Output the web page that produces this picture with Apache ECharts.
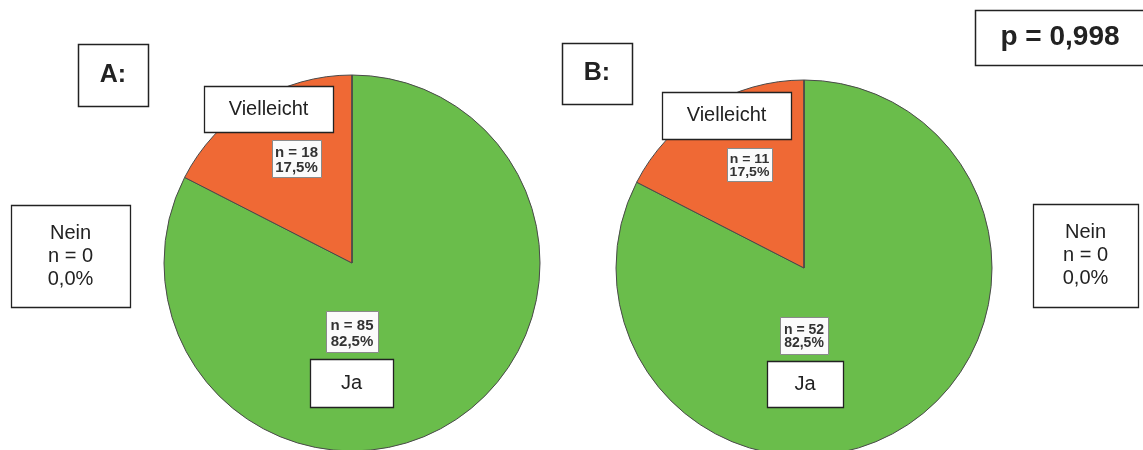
<!DOCTYPE html>
<html>
<head>
<meta charset="utf-8">
<script src="https://cdn.jsdelivr.net/npm/echarts@6/dist/echarts.min.js"></script>
<style>
  html, body { margin: 0; padding: 0; background: #fff; }
  #chart { width: 1143px; height: 450px; }
</style>
</head>
<body>
<div id="chart"></div>
<script>
// Antwortkategorien und Fallzahlen je Gruppe
const categories = ['Ja', 'Vielleicht', 'Nein'];
const countsA = [85, 18, 0];
const countsB = [52, 11, 0];
const groupNames = ['A:', 'B:'];
const pValueText = 'p = 0,998';

const colors = ['#6abd4b', '#ef6935', '#4a7ebb'];
const FONT = '"Liberation Sans", Arial, sans-serif';

function pct(i, arr) {
  const total = arr.reduce((a, b) => a + b, 0);
  return (arr[i] / total * 100).toFixed(1).replace('.', ',') + '%';
}

// Kasten mit zentriertem Text
function box(x, y, w, h, text, font, opt) {
  opt = opt || {};
  return {
    type: 'group',
    children: [
      {
        type: 'rect',
        z: 100,
        zlevel: 1,
        shape: { x: x + 0.5, y: y + 0.5, width: w, height: h },
        style: { fill: opt.fill || '#fff', stroke: opt.stroke || '#222', lineWidth: opt.lw || 1.3 }
      },
      {
        type: 'text',
        z: 101,
        zlevel: 1,
        x: x + w / 2,
        y: y + h / 2 + (opt.dy || 0),
        scaleX: opt.sx || 1,
        style: {
          text: text,
          font: font,
          fill: opt.color || '#222',
          align: 'center',
          verticalAlign: 'middle',
          lineHeight: opt.lh
        }
      }
    ]
  };
}

function pieSeries(counts, center) {
  return {
    type: 'pie',
    center: center,
    radius: 188,
    startAngle: 90,
    clockwise: true,
    silent: true,
    animation: false,
    avoidLabelOverlap: false,
    label: { show: false },
    labelLine: { show: false },
    itemStyle: { borderColor: '#4a4a4a', borderWidth: 1 },
    data: categories.map((c, i) => ({
      name: c,
      value: counts[i],
      itemStyle: { color: colors[i] }
    }))
  };
}

const nLabel = (arr, i) => 'n = ' + arr[i] + '\n' + pct(i, arr);
const catLabel = (arr, i) => categories[i] + '\nn = ' + arr[i] + '\n' + pct(i, arr);

const big = '20px ' + FONT;
const valueBox = { stroke: '#8a8a8a', lw: 1, color: '#333', fill: '#fbfbfb' };

const graphic = [
  // Gruppenbezeichnungen
  box(78, 44, 70, 62, groupNames[0], 'bold 25px ' + FONT, { lw: 1.5 }),
  box(562, 43, 70, 61, groupNames[1], 'bold 25px ' + FONT, { lw: 1.5 }),
  // p-Wert
  box(975, 10, 170, 55, pValueText, 'bold 28px ' + FONT, { lw: 1.5 }),

  // Gruppe A
  box(204, 86, 129, 46, categories[1], big),
  box(310, 359, 83, 48, categories[0], big),
  box(11, 205, 119, 102, catLabel(countsA, 2), big, { lh: 23 }),
  box(272, 140, 49, 37, nLabel(countsA, 1), 'bold 15px ' + FONT,
      Object.assign({ lh: 15, dy: 2 }, valueBox)),
  box(326, 311, 52, 41, nLabel(countsA, 0), 'bold 15px ' + FONT,
      Object.assign({ lh: 16, dy: 2 }, valueBox)),

  // Gruppe B
  box(662, 92, 129, 47, categories[1], big),
  box(767, 361, 76, 46, categories[0], big),
  box(1033, 204, 105, 103, catLabel(countsB, 2), big, { lh: 23 }),
  box(727, 148, 45, 33, nLabel(countsB, 1), 'bold 13px ' + FONT,
      Object.assign({ lh: 13, dy: 1, sx: 1.08 }, valueBox)),
  box(780, 317, 48, 37, nLabel(countsB, 0), 'bold 14px ' + FONT,
      Object.assign({ lh: 13.5, dy: 1 }, valueBox))
];

const chart = echarts.init(document.getElementById('chart'), null, { renderer: 'canvas' });
chart.setOption({
  backgroundColor: '#ffffff',
  animation: false,
  series: [
    pieSeries(countsA, [352, 263]),
    pieSeries(countsB, [804, 268])
  ],
  graphic: { elements: graphic }
});
</script>
</body>
</html>
